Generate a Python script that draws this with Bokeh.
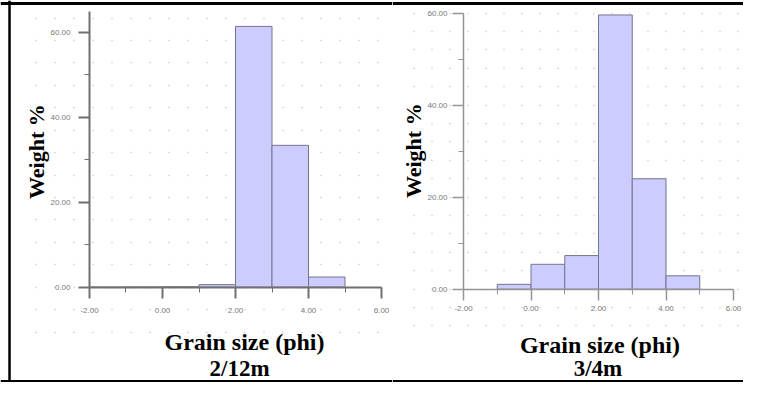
from math import pi
from bokeh.plotting import figure
from bokeh.layouts import row
from bokeh.models import (ColumnDataSource, Range1d, LinearAxis, SingleIntervalTicker,
                          PrintfTickFormatter, Grid, Label, Span)
from bokeh.embed import file_html
from bokeh.resources import INLINE

# ---- data ----
bin_left_212 = [-2, -1, 0, 1, 2, 3, 4]
weight_212 = [0.0, 0.05, 0.1, 0.6, 61.4, 33.4, 2.4]

bin_left_34 = [-1, 0, 1, 2, 3, 4]
weight_34 = [1.05, 5.4, 7.3, 59.6, 24.0, 2.9]

bin_width = 1
x_label = "Grain size (phi)"
y_label = "Weight %"
sample_212 = "2/12m"
sample_34 = "3/4m"

FILL = "#ccccff"
EDGE = "#74748c"
SERIF = "Liberation Serif"
SANS = "Liberation Sans"


def panel(width, xr, yr, bins, vals, ybound, axis_col, axis_w, grid_int, grid_bounds,
          grid_cross, grid_dash, title_xy, sub_xy, ylab_xy, sample, std_x, std_y,
          frame_top, frame_bottom, frame_left):
    p = figure(width=width, height=382, x_range=Range1d(*xr), y_range=Range1d(*yr),
               min_border=0, toolbar_location=None, output_backend="svg",
               x_axis_location=None, y_axis_location=None)
    for g in list(p.grid):
        g.visible = False
    p.outline_line_color = None
    p.background_fill_color = "white"
    p.border_fill_color = "white"

    # dotted background lattice
    grid = Grid(dimension=1, ticker=SingleIntervalTicker(interval=grid_int),
                bounds=grid_bounds, grid_line_color="#bdbdbd", grid_line_width=1.3,
                grid_line_dash=grid_dash)
    if "cross_bounds" in Grid.properties():
        grid.cross_bounds = grid_cross
    p.add_layout(grid)

    src = ColumnDataSource(dict(left=bins, right=[b + bin_width for b in bins],
                                top=vals, bottom=[0] * len(vals)))
    p.quad(left="left", right="right", top="top", bottom="bottom", source=src,
           fill_color=FILL, line_color=EDGE, line_width=1)

    xa = LinearAxis(fixed_location=0, bounds=(-2, 6),
                    ticker=SingleIntervalTicker(interval=2, num_minor_ticks=2),
                    formatter=PrintfTickFormatter(format="%.2f"))
    ya = LinearAxis(fixed_location=-2, bounds=ybound,
                    ticker=SingleIntervalTicker(interval=20, num_minor_ticks=2),
                    formatter=PrintfTickFormatter(format="%.2f"))
    for ax, so in ((xa, std_x), (ya, std_y)):
        ax.axis_line_color = axis_col
        ax.axis_line_width = axis_w
        ax.major_tick_line_color = axis_col
        ax.minor_tick_line_color = axis_col
        ax.major_tick_line_width = axis_w
        ax.minor_tick_line_width = 1
        ax.major_tick_in = 0
        ax.major_tick_out = 11
        ax.minor_tick_in = 0
        ax.minor_tick_out = 5
        ax.major_label_text_font = SANS
        ax.major_label_text_font_size = "8px"
        ax.major_label_text_color = "#7a7a7a"
        ax.major_label_standoff = so
    p.add_layout(xa, "below")
    p.add_layout(ya, "left")

    p.add_layout(Label(x=title_xy[0], y=title_xy[1], text=x_label, text_font=SERIF,
                       text_font_size="24px", text_font_style="bold", text_align="center",
                       text_baseline="alphabetic", text_color="black"))
    p.add_layout(Label(x=sub_xy[0], y=sub_xy[1], text=sample, text_font=SERIF,
                       text_font_size="23px", text_font_style="bold", text_align="center",
                       text_baseline="alphabetic", text_color="black"))
    p.add_layout(Label(x=ylab_xy[0], y=ylab_xy[1], text=y_label, text_font=SERIF,
                       text_font_size="22px", text_font_style="bold", text_align="center",
                       text_baseline="middle", angle=pi / 2, text_color="black",
                       background_fill_color="white"))

    # outer black frame
    p.add_layout(Span(location=frame_top, dimension="width", line_color="black", line_width=3))
    p.add_layout(Span(location=frame_bottom, dimension="width", line_color="black", line_width=3))
    if frame_left is not None:
        p.add_layout(Span(location=frame_left, dimension="height", line_color="black",
                          line_width=2.5))
    return p


p1 = panel(392, (-4.438, 6.301), (-22.44, 67.50), bin_left_212, weight_212, (0, 65),
           "#707070", 2, 5.28, (-11, 67), (-3.48, 6.301), "1 18",
           (2.247, -12.93), (2.11, -19.1), (-3.452, 31.92), sample_212, 10, 8,
           66.79, -22.20, -4.191)
p2 = panel(351, (-4.104, 6.296), (-20.29, 62.743), bin_left_34, weight_34, (0, 60),
           "#959595", 1.5, 4, (-8.5, 62.5), (-3.488, 6.296), "1 17",
           (2.041, -12.12), (1.985, -17.2), (-3.488, 30.1), sample_34, 6, 5,
           62.09, -20.07, None)

layout = row(p1, p2)
open("out.html", "w").write(file_html(layout, INLINE))
